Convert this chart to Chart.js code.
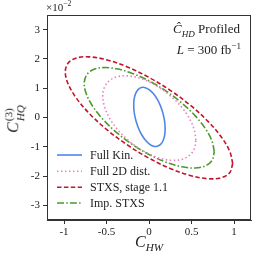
<!DOCTYPE html>
<html>
<head>
<meta charset="utf-8">
<script src="https://cdn.jsdelivr.net/npm/chart.js@4.4.1/dist/chart.umd.min.js"></script>
<style>
html,body{margin:0;padding:0;background:#fff;}
#wrap{position:relative;width:262px;height:262px;overflow:hidden;font-family:'Liberation Serif','DejaVu Serif',serif;color:#222;}
canvas{position:absolute;left:0;top:0;}
.t{position:absolute;white-space:nowrap;line-height:1;}
.i{font-style:italic;}
sub,sup{font-size:70%;line-height:0;}
</style>
</head>
<body>
<div id="wrap">
<canvas id="c" width="262" height="262"></canvas>
<div class="t" style="left:46px;top:2px;font-size:11px;">×10<sup>−2</sup></div>
<div class="t" style="right:22px;top:22px;font-size:13px;text-align:right;"><span class="i">Ĉ<sub>HD</sub></span> Profiled</div>
<div class="t" style="right:21px;top:43px;font-size:13px;text-align:right;"><span class="i">L</span> = 300 fb<sup>−1</sup></div>
<div class="t" style="left:135px;top:234px;font-size:16px;"><span class="i">C<sub>HW</sub></span></div>
<div class="t" style="left:15px;top:119px;font-size:16px;transform:translate(-50%,-50%) rotate(-90deg);"><span class="i">C</span><span style="display:inline-block;vertical-align:middle;font-size:70%;line-height:1.05;margin-left:1px;"><span style="display:block;">(3)</span><span style="display:block;" class="i">HQ</span></span></div>
</div>
<script>
// values in units of 1e-2 for the y axis
const xTicks = [-1, -0.5, 0, 0.5, 1];
const yTicks = [-3, -2, -1, 0, 1, 2, 3];
const seriesLabels = ['Full Kin.', 'Full 2D dist.', 'STXS, stage 1.1', 'Imp. STXS'];

const fullKinX = [0.190,0.184,0.165,0.136,0.098,0.053,0.005,-0.043,-0.088,-0.126,-0.155,-0.174,-0.180,-0.174,-0.155,-0.126,-0.088,-0.043,0.005,0.053,0.098,0.136,0.165,0.184,0.190];
const fullKinY = [-0.384,-0.131,0.133,0.389,0.620,0.810,0.946,1.019,1.024,0.960,0.833,0.650,0.424,0.171,-0.093,-0.349,-0.580,-0.770,-0.906,-0.979,-0.984,-0.920,-0.793,-0.610,-0.384];

const full2DX = [0.552,0.533,0.479,0.392,0.278,0.146,0.004,-0.138,-0.270,-0.384,-0.471,-0.525,-0.544,-0.525,-0.471,-0.384,-0.270,-0.138,0.004,0.146,0.278,0.392,0.479,0.533,0.552];
const full2DY = [-0.771,-0.426,-0.053,0.322,0.673,0.978,1.214,1.366,1.424,1.384,1.247,1.025,0.731,0.386,0.013,-0.362,-0.713,-1.018,-1.254,-1.406,-1.464,-1.424,-1.287,-1.065,-0.771];

const stxsX = [0.985,0.951,0.853,0.697,0.493,0.255,0.000,-0.255,-0.493,-0.697,-0.853,-0.951,-0.985,-0.951,-0.853,-0.697,-0.493,-0.255,0.000,0.255,0.493,0.697,0.853,0.951,0.985];
const stxsY = [-1.574,-1.164,-0.674,-0.141,0.402,0.917,1.369,1.727,1.966,2.071,2.034,1.858,1.554,1.144,0.654,0.121,-0.422,-0.937,-1.389,-1.747,-1.986,-2.091,-2.054,-1.878,-1.574];

const impX = [0.768,0.742,0.666,0.544,0.386,0.201,0.003,-0.195,-0.380,-0.538,-0.660,-0.736,-0.762,-0.736,-0.660,-0.538,-0.380,-0.195,0.003,0.201,0.386,0.544,0.666,0.742,0.768];
const impY = [-1.176,-0.811,-0.391,0.055,0.496,0.902,1.247,1.506,1.662,1.704,1.629,1.441,1.156,0.791,0.371,-0.075,-0.516,-0.922,-1.267,-1.526,-1.682,-1.724,-1.649,-1.461,-1.176];

function pts(xs, ys){ return xs.map((x,i)=>({x:x, y:ys[i]})); }

const AX = '#333';
const datasets = [
  {label: seriesLabels[0], data: pts(fullKinX, fullKinY), borderColor:'#4f86ec', borderWidth:1.6, borderDash:[]},
  {label: seriesLabels[1], data: pts(full2DX, full2DY), borderColor:'#f07cc4', borderWidth:1.6, borderDash:[1.5,2.5]},
  {label: seriesLabels[2], data: pts(stxsX, stxsY), borderColor:'#c3142d', borderWidth:1.6, borderDash:[4.5,2.4]},
  {label: seriesLabels[3], data: pts(impX, impY), borderColor:'#4b9a2b', borderWidth:1.6, borderDash:[7,2.2,1.5,2.2]}
].map(d => Object.assign(d, {showLine:true, pointRadius:0, tension:0.35, fill:false}));

const framePlugin = {
  id:'frame',
  afterDatasetsDraw(chart){
    const {ctx, chartArea:a} = chart;
    ctx.save();
    ctx.strokeStyle = AX; ctx.lineWidth = 1;
    ctx.strokeRect(a.left+0.5, a.top+0.5, a.right-a.left-1, a.bottom-a.top-1);
    ctx.restore();
  }
};

const legendPlugin = {
  id:'innerLegend',
  afterDatasetsDraw(chart){
    const ctx = chart.ctx;
    const rows = [155, 171.3, 187.3, 203];
    ctx.save();
    chart.data.datasets.forEach((d,i)=>{
      const y = rows[i];
      ctx.strokeStyle = d.borderColor; ctx.lineWidth = d.borderWidth;
      ctx.setLineDash(d.borderDash);
      ctx.beginPath(); ctx.moveTo(57, y); ctx.lineTo(82, y); ctx.stroke();
      ctx.setLineDash([]);
      ctx.fillStyle = '#222';
      ctx.font = "12px 'Liberation Serif'";
      ctx.textBaseline = 'middle';
      ctx.fillText(d.label, 90, y+0.5);
    });
    ctx.restore();
  }
};

const tickFont = {family:"'Liberation Serif'", size:11};
new Chart(document.getElementById('c'), {
  type:'scatter',
  data:{datasets},
  options:{
    responsive:false, animation:false, devicePixelRatio:1,
    layout:{padding:{left:0, top:15, right:11, bottom:0}},
    plugins:{legend:{display:false}, tooltip:{enabled:false}},
    scales:{
      x:{
        min:-1.2, max:1.2,
        afterBuildTicks(s){ s.ticks = xTicks.map(v=>({value:v})); },
        afterFit(s){ s.height = 42; },
        ticks:{font:tickFont, color:'#222', padding:2, maxRotation:0, autoSkip:false, callback:v=>String(v)},
        grid:{drawOnChartArea:false, drawTicks:true, tickLength:4, color:AX},
        border:{display:true, color:AX, width:1}
      },
      y:{
        min:-3.5, max:3.5,
        afterBuildTicks(s){ s.ticks = yTicks.map(v=>({value:v})); },
        afterFit(s){ s.width = 47; },
        ticks:{font:tickFont, color:'#222', padding:3, autoSkip:false, callback:v=>String(v)},
        grid:{drawOnChartArea:false, drawTicks:true, tickLength:4, color:AX},
        border:{display:true, color:AX, width:1}
      }
    }
  },
  plugins:[framePlugin, legendPlugin]
});
</script>
</body>
</html>
